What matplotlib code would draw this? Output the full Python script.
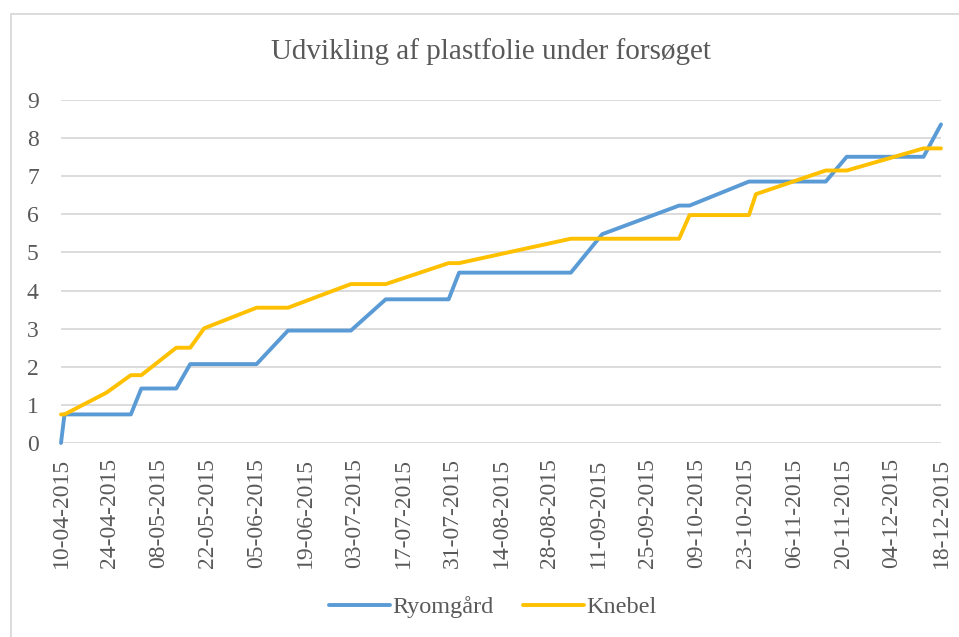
import matplotlib
matplotlib.use('Agg')
import numpy as np
import pandas as pd
from matplotlib import pyplot as plt
from matplotlib import dates as mdates
from matplotlib.patches import Rectangle

# maalinger (dage efter 10-04-2015)
start = pd.Timestamp('2015-04-10')
dage = [0, 1, 13, 20, 23, 33, 37, 41, 56, 65, 83, 93, 111, 114, 146, 155,
        177, 180, 197, 199, 219, 225, 247, 252]
ryomgaard = [0, 0.75, 0.75, 0.75, 1.43, 1.43, 2.07, 2.07, 2.07, 2.95, 2.95, 3.77,
             3.77, 4.47, 4.47, 5.48, 6.23, 6.23, 6.86, 6.86, 6.86, 7.51, 7.51, 8.36]
knebel = [0.75, 0.75, 1.32, 1.78, 1.78, 2.50, 2.50, 3.01, 3.55, 3.55, 4.17, 4.17,
          4.72, 4.72, 5.36, 5.36, 5.36, 5.98, 5.98, 6.53, 7.15, 7.15, 7.73, 7.73]
titel = "Udvikling af plastfolie under forsøget"

datoer = [start + pd.Timedelta(days=d) for d in dage]
ticks = [start + pd.Timedelta(days=14 * i) for i in range(19)]

plt.rcParams['font.family'] = ['Liberation Serif', 'DejaVu Serif']
grey = '#595959'

fig = plt.figure(figsize=(9.59, 6.37), dpi=100)
fig.patches.append(Rectangle((11 / 959, -0.1), 1.2, 1 - 14 / 637 + 0.1,
                             transform=fig.transFigure, fill=False,
                             edgecolor='#D9D9D9', lw=1.3))

ax = fig.add_axes([61 / 959, 1 - 443 / 637, 880 / 959, 343 / 637])
ax.plot(datoer, ryomgaard, color='#5B9BD5', lw=2.8, label='Ryomgård',
        solid_joinstyle='round', solid_capstyle='round', clip_on=False)
ax.plot(datoer, knebel, color='#FFC000', lw=2.8, label='Knebel',
        solid_joinstyle='round', solid_capstyle='round', clip_on=False)

ax.set_ylim(0, 9)
ax.set_yticks(range(10))
ax.set_xlim(start, start + pd.Timedelta(days=252))
ax.set_xticks(ticks)
ax.xaxis.set_major_formatter(mdates.DateFormatter('%d-%m-%Y'))
ax.grid(axis='y', color='#D9D9D9', lw=1.3)
ax.set_axisbelow(True)
for s in ax.spines.values():
    s.set_visible(False)
ax.tick_params(axis='y', length=0, pad=16, labelsize=17, labelcolor=grey)
ax.tick_params(axis='x', length=0, pad=11, labelsize=17, labelcolor=grey,
               labelrotation=90)

fig.text(491 / 959, 1 - 52 / 637, titel, ha='center', va='center',
         fontsize=21, color=grey)

leg = fig.legend(loc='center', bbox_to_anchor=(493 / 959, 1 - 607 / 637),
                 ncol=2, frameon=False, fontsize=17.5, handlelength=2.5,
                 handletextpad=0.1, columnspacing=1.2)
for t in leg.get_texts():
    t.set_color(grey)

fig.savefig('out.png', dpi=100)
